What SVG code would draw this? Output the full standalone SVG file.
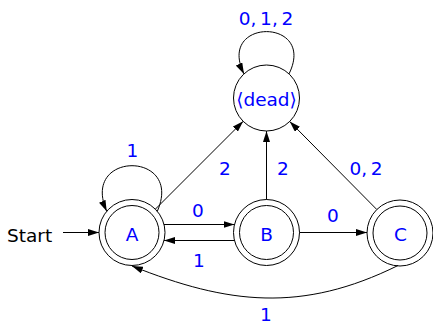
<svg xmlns="http://www.w3.org/2000/svg" width="433" height="325" viewBox="0 0 433 325">
<defs>
<marker id="arr" viewBox="0 0 11 7" refX="11" refY="3.5" markerWidth="11" markerHeight="7" markerUnits="userSpaceOnUse" orient="auto">
<path d="M0,0 L11,3.5 L0,7 Z" fill="#000"/>
</marker>
</defs>
<style>
.st{fill:none;stroke:#000;stroke-width:1}
.e{fill:none;stroke:#000;stroke-width:1;marker-end:url(#arr)}
.t{font-family:"DejaVu Sans",sans-serif;font-size:18.5px;fill:#0000ff;text-anchor:middle}
.s{font-family:"DejaVu Sans",sans-serif;font-size:18.5px;fill:#000}
</style>
<rect width="433" height="325" fill="#fff"/>
<g id="edges">
<path class="e" d="M63,232.5 L99,232.5"/>
<path class="e" d="M157.3,211.3 C184,150.5 80,150.5 106.7,211.3"/>
<path class="e" d="M289,73.9 C317,17.5 216,17.5 244,73.9"/>
<path class="e" d="M164,224.5 L234.5,224.5"/>
<path class="e" d="M234.5,240.5 L164,240.5"/>
<path class="e" d="M299.5,232.5 L367,232.5"/>
<path class="e" d="M155.3,209.2 L243.2,121.3"/>
<path class="e" d="M266.5,199.5 L266.5,131"/>
<path class="e" d="M376.8,209.5 L289.7,121.5"/>
<path class="e" d="M398,265.5 C302,313 228,304.4 132,266"/>
</g>
<g id="labels">
<text class="s" x="7" y="241.5">Start</text>
<text class="t" x="132.5" y="157">1</text>
<text class="t" x="266" y="25">0,&#8201;1,&#8201;2</text>
<text class="t" x="225" y="175">2</text>
<text class="t" x="283" y="175">2</text>
<text class="t" x="366" y="175">0,&#8201;2</text>
<text class="t" x="198" y="217">0</text>
<text class="t" x="199" y="267">1</text>
<text class="t" x="333" y="222">0</text>
<text class="t" x="266" y="321">1</text>
</g>
<g id="dead">
<circle class="st" cx="266.5" cy="98" r="33"/>
<text class="t" x="266.5" y="106">⟨dead⟩</text>
</g>
<g id="A">
<circle class="st" cx="132" cy="232.5" r="33"/>
<circle class="st" cx="132" cy="232.5" r="27"/>
<text class="t" x="132" y="241">A</text>
</g>
<g id="B">
<circle class="st" cx="266.5" cy="232.5" r="33"/>
<circle class="st" cx="266.5" cy="232.5" r="27"/>
<text class="t" x="266.5" y="241">B</text>
</g>
<g id="C">
<circle class="st" cx="400" cy="233" r="33"/>
<circle class="st" cx="400" cy="233" r="27"/>
<text class="t" x="400.5" y="241">C</text>
</g>
</svg>
